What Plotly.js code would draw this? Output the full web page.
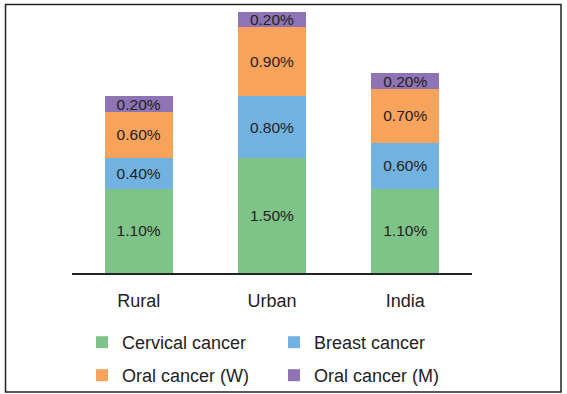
<!DOCTYPE html>
<html>
<head>
<meta charset="utf-8">
<script src="https://cdn.plot.ly/plotly-3.0.1.min.js"></script>
<style>html,body{margin:0;padding:0;background:#fff;}#chart{width:567px;height:394px;}</style>
</head>
<body>
<div id="chart"></div>
<script>
const categories = ["Rural", "Urban", "India"];
const seriesNames = ["Cervical cancer", "Breast cancer", "Oral cancer (W)", "Oral cancer (M)"];
const cervical = [1.10, 1.50, 1.10];
const breast = [0.40, 0.80, 0.60];
const oralW = [0.60, 0.90, 0.70];
const oralM = [0.20, 0.20, 0.20];
const colors = ["#7EC488", "#72B2E1", "#F8A35C", "#8E74B5"];

const values = [cervical, breast, oralW, oralM];
const legends = ["legend", "legend", "legend2", "legend2"];
const traces = values.map((v, i) => ({
  type: "bar",
  x: categories,
  y: v,
  name: seriesNames[i],
  legend: legends[i],
  marker: {color: colors[i], line: {width: 0}},
  texttemplate: "%{y:.2f}%",
  textposition: "inside",
  insidetextanchor: "middle",
  constraintext: "none",
  textfont: {family: "Liberation Sans, Arial, sans-serif", size: 15.5, color: "#222"},
  hoverinfo: "skip",
  width: 0.51
}));

const legendCommon = {
  orientation: "h", xref: "container", yref: "container",
  xanchor: "left", yanchor: "top",
  entrywidth: 147, entrywidthmode: "pixels",
  font: {size: 18, color: "#222"}, traceorder: "normal",
  bgcolor: "rgba(0,0,0,0)"
};

const layout = {
  width: 567, height: 394,
  barmode: "stack",
  paper_bgcolor: "#fff", plot_bgcolor: "#fff",
  margin: {l: 72, r: 95, t: 12, b: 121},
  font: {family: "Liberation Sans, Arial, sans-serif", color: "#222"},
  xaxis: {
    showline: true, linecolor: "#222", linewidth: 1.5,
    showgrid: false, zeroline: false, ticks: "",
    tickfont: {size: 18, color: "#222"},
    ticklabelstandoff: 11
  },
  yaxis: {visible: false, range: [0, 3.4], fixedrange: true},
  showlegend: true,
  legend: Object.assign({}, legendCommon, {x: 82/567, y: 1 - 324/394}),
  legend2: Object.assign({}, legendCommon, {x: 82/567, y: 1 - 357/394}),
  shapes: [{
    type: "rect", xref: "paper", yref: "paper",
    x0: (5.5 - 72) / 400, x1: (561 - 72) / 400,
    y0: (273 - 392) / 261, y1: (273 - 4.5) / 261,
    line: {color: "#222", width: 1.5}, fillcolor: "rgba(0,0,0,0)"
  }]
};

Plotly.newPlot("chart", traces, layout, {displayModeBar: false, staticPlot: true});
</script>
</body>
</html>
